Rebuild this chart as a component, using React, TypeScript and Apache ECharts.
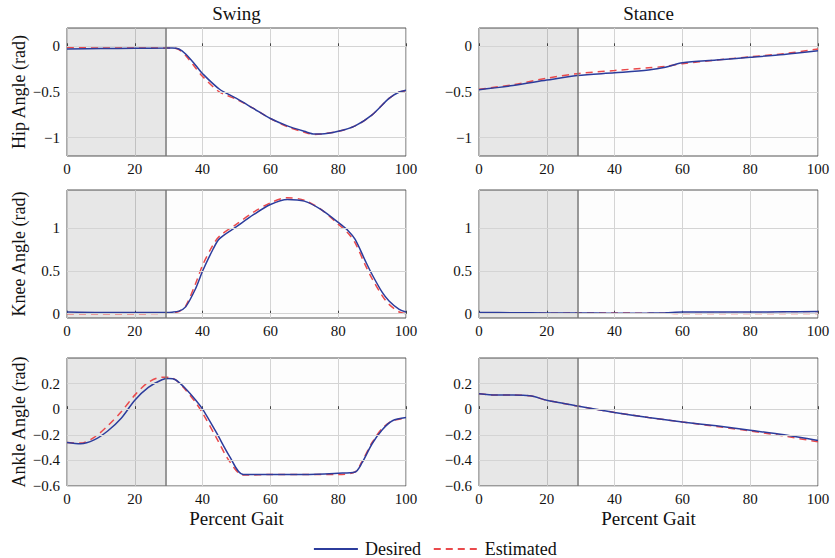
import React, { useEffect, useRef } from "react";
import * as echarts from "echarts";

// Percent gait sample points
const hipSwingX = [0, 10, 20, 29, 31, 33, 35, 38, 40, 45, 50, 55, 60, 65, 70, 73, 75, 80, 85, 90, 95, 98, 100];
const hipSwingDesired = [-0.03, -0.025, -0.022, -0.02, -0.018, -0.03, -0.085, -0.21, -0.3, -0.47, -0.57, -0.68, -0.79, -0.87, -0.93, -0.96, -0.96, -0.93, -0.87, -0.75, -0.57, -0.5, -0.48];
const hipSwingEstimated = [-0.01, -0.02, -0.02, -0.02, -0.02, -0.035, -0.1, -0.24, -0.33, -0.5, -0.58, -0.68, -0.79, -0.88, -0.94, -0.965, -0.96, -0.93, -0.87, -0.75, -0.57, -0.5, -0.49];

const hipStanceX = [0, 10, 20, 29, 40, 50, 55, 60, 70, 80, 90, 100];
const hipStanceDesired = [-0.475, -0.43, -0.37, -0.32, -0.29, -0.26, -0.23, -0.18, -0.15, -0.12, -0.09, -0.05];
const hipStanceEstimated = [-0.47, -0.42, -0.35, -0.3, -0.265, -0.235, -0.22, -0.19, -0.15, -0.115, -0.08, -0.03];

const kneeSwingX = [0, 10, 20, 29, 31, 33, 35, 38, 40, 43, 45, 50, 55, 60, 65, 70, 75, 80, 83, 85, 88, 90, 93, 95, 98, 100];
const kneeSwingDesired = [0.02, 0.015, 0.015, 0.015, 0.018, 0.03, 0.08, 0.3, 0.5, 0.75, 0.88, 1.02, 1.16, 1.28, 1.34, 1.32, 1.22, 1.07, 0.97, 0.87, 0.62, 0.46, 0.25, 0.15, 0.05, 0.02];
const kneeSwingEstimated = [0.0, 0.0, 0.0, 0.005, 0.01, 0.025, 0.09, 0.36, 0.57, 0.8, 0.91, 1.05, 1.19, 1.3, 1.36, 1.33, 1.22, 1.05, 0.94, 0.83, 0.57, 0.41, 0.21, 0.11, 0.02, 0.0];

const kneeStanceX = [0, 10, 20, 29, 40, 50, 55, 60, 70, 80, 90, 100];
const kneeStanceDesired = [0.015, 0.012, 0.01, 0.01, 0.005, 0.008, 0.012, 0.02, 0.02, 0.02, 0.022, 0.025];
const kneeStanceEstimated = [0.01, 0.005, 0.005, 0.008, 0.008, 0.006, 0.005, 0.003, 0.002, 0.002, 0.002, 0.002];

const ankleSwingX = [0, 4, 8, 12, 16, 20, 24, 28, 30, 32, 35, 38, 40, 44, 48, 52, 60, 70, 80, 85, 87, 90, 93, 96, 100];
const ankleSwingDesired = [-0.26, -0.27, -0.24, -0.17, -0.07, 0.07, 0.17, 0.23, 0.24, 0.23, 0.16, 0.07, 0.0, -0.18, -0.37, -0.51, -0.51, -0.51, -0.5, -0.49, -0.42, -0.27, -0.16, -0.09, -0.065];
const ankleSwingEstimated = [-0.26, -0.265, -0.22, -0.13, -0.02, 0.11, 0.21, 0.25, 0.25, 0.23, 0.15, 0.05, -0.03, -0.22, -0.41, -0.515, -0.51, -0.51, -0.51, -0.49, -0.41, -0.26, -0.15, -0.09, -0.07];

const ankleStanceX = [0, 5, 10, 15, 20, 25, 29, 40, 50, 60, 70, 80, 90, 100];
const ankleStanceDesired = [0.12, 0.11, 0.11, 0.105, 0.07, 0.045, 0.025, -0.025, -0.065, -0.1, -0.13, -0.165, -0.2, -0.245];
const ankleStanceEstimated = [0.12, 0.11, 0.11, 0.105, 0.07, 0.045, 0.025, -0.025, -0.065, -0.1, -0.135, -0.17, -0.21, -0.255];

const hipTicks = [-1, -0.5, 0];
const kneeTicks = [0, 0.5, 1];
const ankleTicks = [-0.6, -0.4, -0.2, 0, 0.2];

const rowLabels = ["Hip Angle (rad)", "Knee Angle (rad)", "Ankle Angle (rad)"];
const colTitles = ["Swing", "Stance"];
const seriesNames = ["Desired", "Estimated"];
const xAxisTitle = "Percent Gait";
const shadeEnd = 29;

const FONT = "Liberation Serif";
const BLUE = "#2c3c9c";
const RED = "#ea4a4c";

function fmt(v: number): string {
  const s = String(Math.round(v * 100) / 100);
  return s.replace("-", "\u2212");
}

export default function App() {
  const ref = useRef<HTMLDivElement>(null);
  useEffect(() => {
    if (!ref.current) return;
    const chart = echarts.init(ref.current, null, { renderer: "svg" });

    const rows = [
      { ticks: hipTicks, min: -1.2, max: 0.2, panels: [
        { x: hipSwingX, d: hipSwingDesired, e: hipSwingEstimated },
        { x: hipStanceX, d: hipStanceDesired, e: hipStanceEstimated },
      ] },
      { ticks: kneeTicks, min: -0.05, max: 1.45, panels: [
        { x: kneeSwingX, d: kneeSwingDesired, e: kneeSwingEstimated },
        { x: kneeStanceX, d: kneeStanceDesired, e: kneeStanceEstimated },
      ] },
      { ticks: ankleTicks, min: -0.6, max: 0.4, panels: [
        { x: ankleSwingX, d: ankleSwingDesired, e: ankleSwingEstimated },
        { x: ankleStanceX, d: ankleStanceDesired, e: ankleStanceEstimated },
      ] },
    ];
    const tops = [28, 190, 358];
    const lefts = [67, 479];
    const W = 339;
    const H = 128;

    const grid: any[] = [];
    const xAxis: any[] = [];
    const yAxis: any[] = [];
    const series: any[] = [];

    rows.forEach((row, r) => {
      row.panels.forEach((p, c) => {
        const idx = grid.length;
        grid.push({
          left: lefts[c], top: tops[r], width: W, height: H,
          show: true, borderColor: "#555", borderWidth: 1, backgroundColor: "#fdfdfd",
        });
        xAxis.push({
          type: "value", gridIndex: idx, min: 0, max: 100, interval: 20,
          axisLine: { show: false },
          axisTick: { show: true, inside: true, length: 3, lineStyle: { color: "#444" } },
          splitLine: { show: true, lineStyle: { color: "#d4d4d4", width: 1 } },
          axisLabel: { fontFamily: FONT, fontSize: 15, color: "#111", margin: 5 },
        });
        yAxis.push({
          type: "value", gridIndex: idx, min: row.min, max: row.max,
          axisLine: { show: false },
          axisTick: { show: true, inside: true, length: 3, customValues: row.ticks, lineStyle: { color: "#444" } },
          splitLine: { show: false },
          axisLabel: {
            fontFamily: FONT, fontSize: 15, color: "#111", margin: 7, customValues: row.ticks,
            formatter: (v: number) => fmt(v),
          },
          name: c === 0 ? rowLabels[r] : "",
          nameLocation: "middle", nameGap: 39,
          nameTextStyle: { fontFamily: FONT, fontSize: 18, color: "#111" },
        });
        series.push({
          name: seriesNames[0], type: "line", xAxisIndex: idx, yAxisIndex: idx,
          data: p.x.map((x, i) => [x, p.d[i]]), smooth: 0.3, symbol: "none",
          lineStyle: { color: BLUE, width: 1.5 }, itemStyle: { color: BLUE },
          z: 4,
          markArea: {
            silent: true,
            itemStyle: { color: "rgba(0,0,0,0.085)" },
            data: [[{ xAxis: 0 }, { xAxis: shadeEnd }]],
          },
          markLine: {
            silent: true, symbol: "none", label: { show: false },
            data: [
              ...row.ticks.map((t) => ({ yAxis: t, lineStyle: { color: "#d4d4d4", width: 1, type: "solid" } })),
              { xAxis: shadeEnd, lineStyle: { color: "#777", width: 1.5, type: "solid" } },
            ],
          },
        });
        series.push({
          name: seriesNames[1], type: "line", xAxisIndex: idx, yAxisIndex: idx,
          data: p.x.map((x, i) => [x, p.e[i]]), smooth: 0.3, symbol: "none",
          lineStyle: { color: RED, width: 1.5, type: [7, 5] }, itemStyle: { color: RED },
          z: 3,
        });
      });
    });

    const texts: any[] = colTitles.map((t, c) => ({
      type: "text",
      x: lefts[c] + W / 2, y: 13,
      style: { text: t, fontFamily: FONT, fontSize: 19, fill: "#111", align: "center", verticalAlign: "middle" },
    }));
    lefts.forEach((l) => {
      texts.push({
        type: "text",
        x: l + W / 2, y: 518,
        style: { text: xAxisTitle, fontFamily: FONT, fontSize: 19, fill: "#111", align: "center", verticalAlign: "middle" },
      });
    });

    chart.setOption({
      animation: false,
      backgroundColor: "#fff",
      textStyle: { fontFamily: FONT },
      grid, xAxis, yAxis, series,
      legend: {
        data: seriesNames,
        left: 308, top: 535,
        itemWidth: 44, itemHeight: 14, itemGap: 12,
        itemStyle: { opacity: 0 },
        lineStyle: { width: 1.8 },
        textStyle: { fontFamily: FONT, fontSize: 18, color: "#111", padding: [0, 6, 0, 2] },
      },
      graphic: texts,
    });
    return () => chart.dispose();
  }, []);
  return <div ref={ref} style={{ position: "fixed", left: 0, top: 0, width: 835, height: 558 }} />;
}
